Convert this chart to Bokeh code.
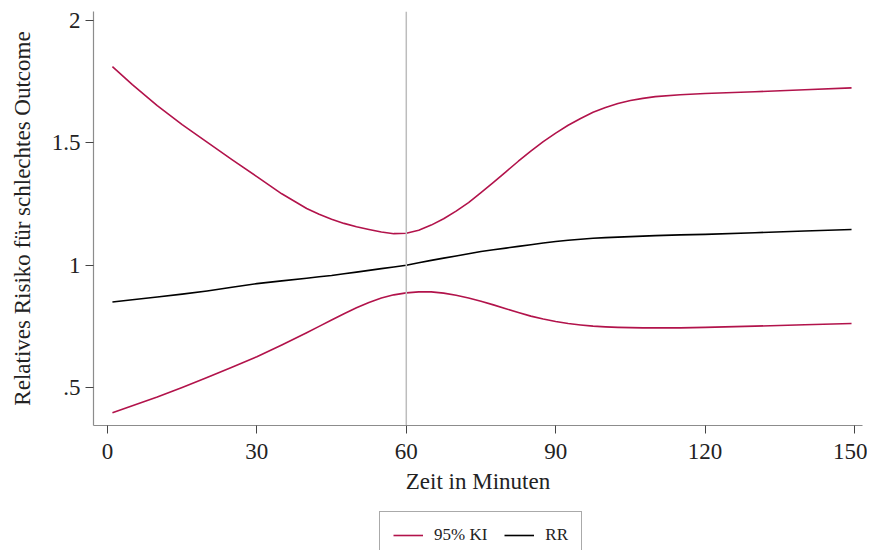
from bokeh.plotting import figure
from bokeh.layouts import column
from bokeh.models import Range1d, Span, Legend, LegendItem, FixedTicker
from bokeh.embed import file_html
from bokeh.resources import INLINE

# Data (minutes)
minutes = [1, 5, 10, 15, 20, 25, 30, 35, 40,
           42.5, 45, 47.5, 50, 52.5, 55, 57.5, 60,
           62.5, 65, 67.5, 70, 72.5, 75, 77.5, 80,
           82.5, 85, 87.5, 90, 92.5, 95, 97.5, 100,
           102.5, 105, 107.5, 110,
           115, 120, 130, 140, 149.4]
upper_ci = [1.812, 1.738, 1.652, 1.575, 1.503, 1.432, 1.362, 1.292, 1.232,
            1.208, 1.188, 1.171, 1.157, 1.146, 1.136, 1.129, 1.131,
            1.143, 1.164, 1.190, 1.221, 1.256, 1.297, 1.339, 1.382,
            1.425, 1.466, 1.505, 1.540, 1.572, 1.600, 1.625, 1.645,
            1.661, 1.673, 1.682, 1.689,
            1.697, 1.702, 1.709, 1.717, 1.725]
lower_ci = [0.397, 0.426, 0.461, 0.500, 0.541, 0.583, 0.626, 0.674, 0.724,
            0.750, 0.776, 0.802, 0.826, 0.848, 0.866, 0.879, 0.887,
            0.891, 0.891, 0.886, 0.877, 0.866, 0.853, 0.838, 0.822,
            0.807, 0.792, 0.780, 0.770, 0.762, 0.756, 0.751, 0.748,
            0.746, 0.745, 0.744, 0.744,
            0.744, 0.746, 0.751, 0.757, 0.762]
rr = [0.850, 0.859, 0.870, 0.882, 0.895, 0.910, 0.925, 0.936, 0.947,
      0.953, 0.958, 0.965, 0.972, 0.979, 0.986, 0.993, 1.000,
      1.010, 1.020, 1.029, 1.038, 1.047, 1.056, 1.063, 1.070,
      1.077, 1.084, 1.091, 1.097, 1.102, 1.106, 1.110, 1.113,
      1.115, 1.117, 1.119, 1.121,
      1.124, 1.126, 1.133, 1.140, 1.146]
x_ticks = [0, 30, 60, 90, 120, 150]
y_ticks = [0.5, 1.0, 1.5, 2.0]
y_tick_labels = {0.5: ".5", 1.0: "1", 1.5: "1.5", 2.0: "2"}
ref_minute = 60
legend_labels = ["95% KI", "RR"]

FONT = "Liberation Serif"
CI_COLOR = "#B2134B"
RR_COLOR = "black"
LW = 1.6

p = figure(width=867, height=505, output_backend="svg", toolbar_location=None,
           x_range=Range1d(-2.8, 151.6), y_range=Range1d(0.345, 2.037),
           min_border_left=93, min_border_right=5, min_border_top=11,
           min_border_bottom=80)
p.outline_line_color = None
p.grid.visible = False
p.background_fill_color = "white"
p.border_fill_color = "white"

vline = Span(location=ref_minute, dimension="height", line_color="#BDBDBD",
             line_width=1.5)
p.add_layout(vline)

p.line(minutes, upper_ci, line_color=CI_COLOR, line_width=LW, line_join="round")
p.line(minutes, lower_ci, line_color=CI_COLOR, line_width=LW, line_join="round")
p.line(minutes, rr, line_color=RR_COLOR, line_width=LW, line_join="round")

for ax in (p.xaxis[0], p.yaxis[0]):
    ax.axis_line_color = "#8C8C8C"
    ax.axis_line_width = 1.2
    ax.major_tick_line_color = "#444444"
    ax.major_tick_line_width = 1
    ax.major_tick_out = 8
    ax.major_tick_in = 0
    ax.minor_tick_out = 0
    ax.minor_tick_in = 0
    ax.major_label_text_font = FONT
    ax.major_label_text_font_size = "23px"
    ax.major_label_text_color = "#222222"
    ax.axis_label_text_font = FONT
    ax.axis_label_text_font_size = "23px"
    ax.axis_label_text_font_style = "normal"
    ax.axis_label_text_color = "#222222"

p.xaxis.ticker = FixedTicker(ticks=x_ticks)
p.yaxis.ticker = FixedTicker(ticks=y_ticks)
p.yaxis.major_label_overrides = y_tick_labels
p.xaxis.axis_label = "Zeit in Minuten"
p.yaxis.axis_label = "Relatives Risiko für schlechtes Outcome"
p.xaxis.major_label_standoff = 10
p.xaxis.axis_label_standoff = 7
p.yaxis.major_label_standoff = 5
p.yaxis.axis_label_standoff = 14

# Legend strip below the chart (its lines reuse the data but lie outside its view)
p2 = figure(width=867, height=45, output_backend="svg", toolbar_location=None,
            x_range=Range1d(1000, 1001), y_range=Range1d(1000, 1001),
            min_border_left=0, min_border_right=0, min_border_top=0,
            min_border_bottom=0)
p2.axis.visible = False
p2.grid.visible = False
p2.outline_line_color = None
p2.background_fill_color = "white"
p2.border_fill_color = "white"
g_ci = p2.line(minutes, upper_ci, line_color=CI_COLOR, line_width=LW)
g_rr = p2.line(minutes, rr, line_color=RR_COLOR, line_width=LW)

legend = Legend(items=[LegendItem(label=legend_labels[0], renderers=[g_ci]),
                       LegendItem(label=legend_labels[1], renderers=[g_rr])],
                orientation="horizontal", location=(286, -9))
legend.label_text_font = FONT
legend.label_text_font_size = "17px"
legend.label_text_color = "#222222"
legend.glyph_width = 30
legend.glyph_height = 18
legend.label_height = 18
legend.label_standoff = 11
legend.spacing = 17
legend.padding = 13
legend.margin = 0
legend.border_line_color = "#555555"
legend.border_line_width = 1
legend.background_fill_color = "white"
legend.background_fill_alpha = 1
p2.add_layout(legend)

layout = column(p, p2, spacing=0)
open("out.html", "w").write(file_html(layout, INLINE))
